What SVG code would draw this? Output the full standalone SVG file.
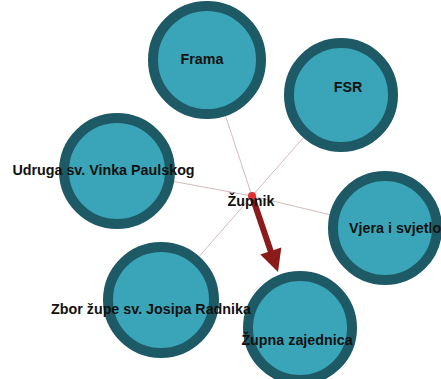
<svg xmlns="http://www.w3.org/2000/svg" width="441" height="379" viewBox="0 0 441 379">
<style>
.n{fill:#3aa5b8;stroke:#1d5a66;stroke-width:10}
.t{font-family:"Liberation Sans",Arial,sans-serif;font-weight:bold;font-size:14.3px;fill:#111;text-anchor:middle}
.e{stroke:#c8a8a8;stroke-width:0.8;fill:none}
</style>
<rect width="441" height="379" fill="#fff"/>
<g id="connectors">
<line class="e" x1="252" y1="196" x2="207" y2="60"/>
<line class="e" x1="252" y1="196" x2="341" y2="95"/>
<line class="e" x1="252" y1="196" x2="117" y2="171"/>
<line class="e" x1="252" y1="196" x2="385" y2="228"/>
<line class="e" x1="252" y1="196" x2="161" y2="300"/>
</g>
<g id="frama"><circle class="n" cx="207" cy="60" r="54"/><text class="t" x="202" y="64">Frama</text></g>
<g id="fsr"><circle class="n" cx="341" cy="95" r="52"/><text class="t" x="348" y="92">FSR</text></g>
<g id="udruga"><circle class="n" cx="117" cy="171" r="53"/><text class="t" x="103.5" y="175">Udruga sv. Vinka Paulskog</text></g>
<g id="vjera"><circle class="n" cx="385" cy="228" r="52"/><text class="t" x="349" y="233" style="text-anchor:start">Vjera i svjetlo</text></g>
<g id="zupna"><circle class="n" cx="300" cy="328" r="52"/><text class="t" x="297" y="345">Župna zajednica</text></g>
<g id="zbor"><circle class="n" cx="161" cy="300" r="53"/><text class="t" x="151" y="314">Zbor župe sv. Josipa Radnika</text></g>
<g id="arrow">
<line x1="252" y1="196" x2="271" y2="252" stroke="#8b1a1a" stroke-width="6"/>
<polygon points="278,272 281.3,247.5 260.3,254.6" fill="#8b1a1a"/>
</g>
<g id="zupnik"><circle cx="252" cy="196" r="4" fill="#e03333"/><text class="t" x="251" y="206">Župnik</text></g>
</svg>
